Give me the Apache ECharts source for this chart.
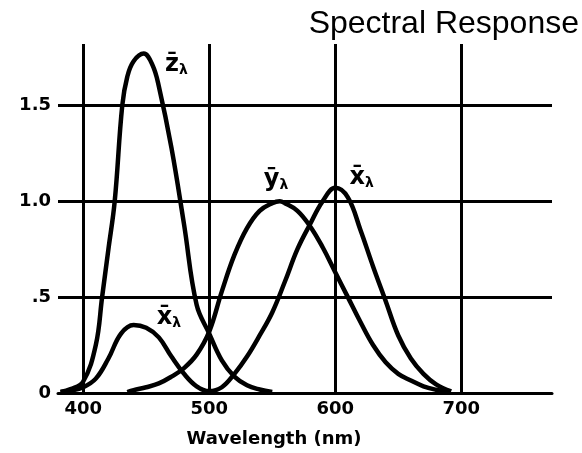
<!DOCTYPE html>
<html>
<head>
<meta charset="utf-8">
<script src="https://cdn.jsdelivr.net/npm/echarts@6/dist/echarts.min.js"></script>
<style>
  html, body { margin: 0; padding: 0; background: #fff; }
  #chart { width: 582px; height: 453px; }
</style>
</head>
<body>
<div id="chart"></div>
<script>
// color matching curves (wavelength nm, response)
var xBarNm  = [382, 390, 400, 410, 420, 430, 440, 450, 460, 470, 480, 490, 500, 510, 520, 530, 540, 550, 560, 570, 580, 590, 600, 610, 620, 630, 640, 650, 660, 670, 680, 692]
var xBarVal = [0.005, 0.012, 0.03, 0.075, 0.18, 0.31, 0.355, 0.34, 0.29, 0.19, 0.10, 0.035, 0.01, 0.03, 0.10, 0.19, 0.30, 0.42, 0.58, 0.75, 0.88, 1.0, 1.07, 1.02, 0.85, 0.66, 0.48, 0.30, 0.18, 0.10, 0.045, 0.008]

var yBarNm  = [435, 440, 450, 460, 470, 480, 490, 500, 510, 520, 530, 540, 550, 556, 560, 570, 580, 590, 600, 610, 620, 630, 640, 650, 660, 670, 680, 690]
var yBarVal = [0.005, 0.015, 0.03, 0.05, 0.085, 0.13, 0.2, 0.32, 0.53, 0.72, 0.86, 0.95, 0.99, 1.0, 0.99, 0.95, 0.87, 0.76, 0.63, 0.5, 0.37, 0.25, 0.16, 0.1, 0.065, 0.035, 0.017, 0.005]

var zBarNm  = [382, 390, 400, 410, 415, 420, 425, 431, 435, 440, 448, 455, 460, 470, 480, 490, 500, 510, 520, 530, 540, 550]
var zBarVal = [0.005, 0.02, 0.06, 0.25, 0.5, 0.75, 1.0, 1.5, 1.65, 1.73, 1.77, 1.71, 1.6, 1.28, 0.88, 0.46, 0.31, 0.17, 0.085, 0.04, 0.018, 0.005]

var xTicks = [400, 500, 600, 700]
var yTicks = [0, 0.5, 1, 1.5]
var yTickLabels = ['0', '.5', '1.0', '1.5']

function pairs(nm, val) {
  return nm.map(function (n, i) { return [n, val[i]] })
}

var tickFont = {
  color: '#000',
  fontFamily: 'DejaVu Sans',
  fontWeight: 'bold',
  fontSize: 18
}

function curveLabel(letter, coord) {
  return {
    symbol: 'circle',
    symbolSize: 0,
    silent: true,
    data: [{ coord: coord, value: letter }],
    label: {
      show: true,
      position: 'inside',
      formatter: '{b|' + letter + '}{s|λ}',
      rich: {
        b: { color: '#000', fontFamily: 'DejaVu Sans', fontWeight: 'bold', fontSize: 24 },
        s: { color: '#000', fontFamily: 'DejaVu Sans', fontWeight: 'bold', fontSize: 14, verticalAlign: 'bottom', padding: [10, 0, 0, 0] }
      }
    }
  }
}

var lineStyle = { color: '#000', width: 4.5 }

var chart = echarts.init(document.getElementById('chart'))
chart.setOption({
  animation: false,
  backgroundColor: '#fff',
  title: {
    text: 'Spectral Response',
    right: 3,
    top: 8,
    padding: 0,
    textStyle: {
      color: '#000',
      fontFamily: 'Liberation Sans',
      fontWeight: 'normal',
      fontSize: 32
    }
  },
  grid: {
    left: 58,
    right: 30,
    top: 44,
    bottom: 53
  },
  xAxis: {
    type: 'value',
    min: 380,
    max: 772,
    interval: 20,
    name: 'Wavelength (nm)',
    nameLocation: 'middle',
    nameGap: 37,
    nameTextStyle: {
      color: '#000',
      fontFamily: 'DejaVu Sans',
      fontWeight: 'bold',
      fontSize: 18,
      padding: [0, 62, 0, 0]
    },
    axisLine: { show: true, lineStyle: { color: '#000', width: 3 } },
    axisTick: { show: false },
    splitLine: { show: false },
    axisLabel: Object.assign({
      margin: 7,
      showMinLabel: false,
      showMaxLabel: false,
      formatter: function (v) {
        return xTicks.indexOf(v) >= 0 ? String(v) : ''
      }
    }, tickFont)
  },
  yAxis: {
    type: 'value',
    min: 0,
    max: 1.82,
    interval: 0.5,
    axisLine: { show: false },
    axisTick: { show: false },
    splitLine: { show: false },
    axisLabel: Object.assign({
      margin: 7,
      showMaxLabel: false,
      formatter: function (v) {
        var i = yTicks.indexOf(v)
        return i >= 0 ? yTickLabels[i] : ''
      }
    }, tickFont)
  },
  series: [
    {
      name: 'grid',
      type: 'line',
      data: [],
      silent: true,
      markLine: {
        silent: true,
        symbol: 'none',
        label: { show: false },
        lineStyle: { color: '#000', width: 3, type: 'solid' },
        data: xTicks.map(function (v) { return { xAxis: v } })
          .concat(yTicks.slice(1).map(function (v) { return { yAxis: v } }))
      }
    },
    {
      name: 'x',
      type: 'line',
      smooth: 0.4,
      showSymbol: false,
      lineStyle: lineStyle,
      data: pairs(xBarNm, xBarVal),
      markPoint: curveLabel('x̄', [621, 1.12])
    },
    {
      name: 'y',
      type: 'line',
      smooth: 0.4,
      showSymbol: false,
      lineStyle: lineStyle,
      data: pairs(yBarNm, yBarVal),
      markPoint: curveLabel('ȳ', [553, 1.11])
    },
    {
      name: 'z',
      type: 'line',
      smooth: 0.4,
      showSymbol: false,
      lineStyle: lineStyle,
      data: pairs(zBarNm, zBarVal),
      markPoint: curveLabel('z̄', [474, 1.71])
    },
    {
      name: 'x2',
      type: 'line',
      data: [],
      markPoint: curveLabel('x̄', [468, 0.39])
    }
  ]
})
</script>
</body>
</html>
